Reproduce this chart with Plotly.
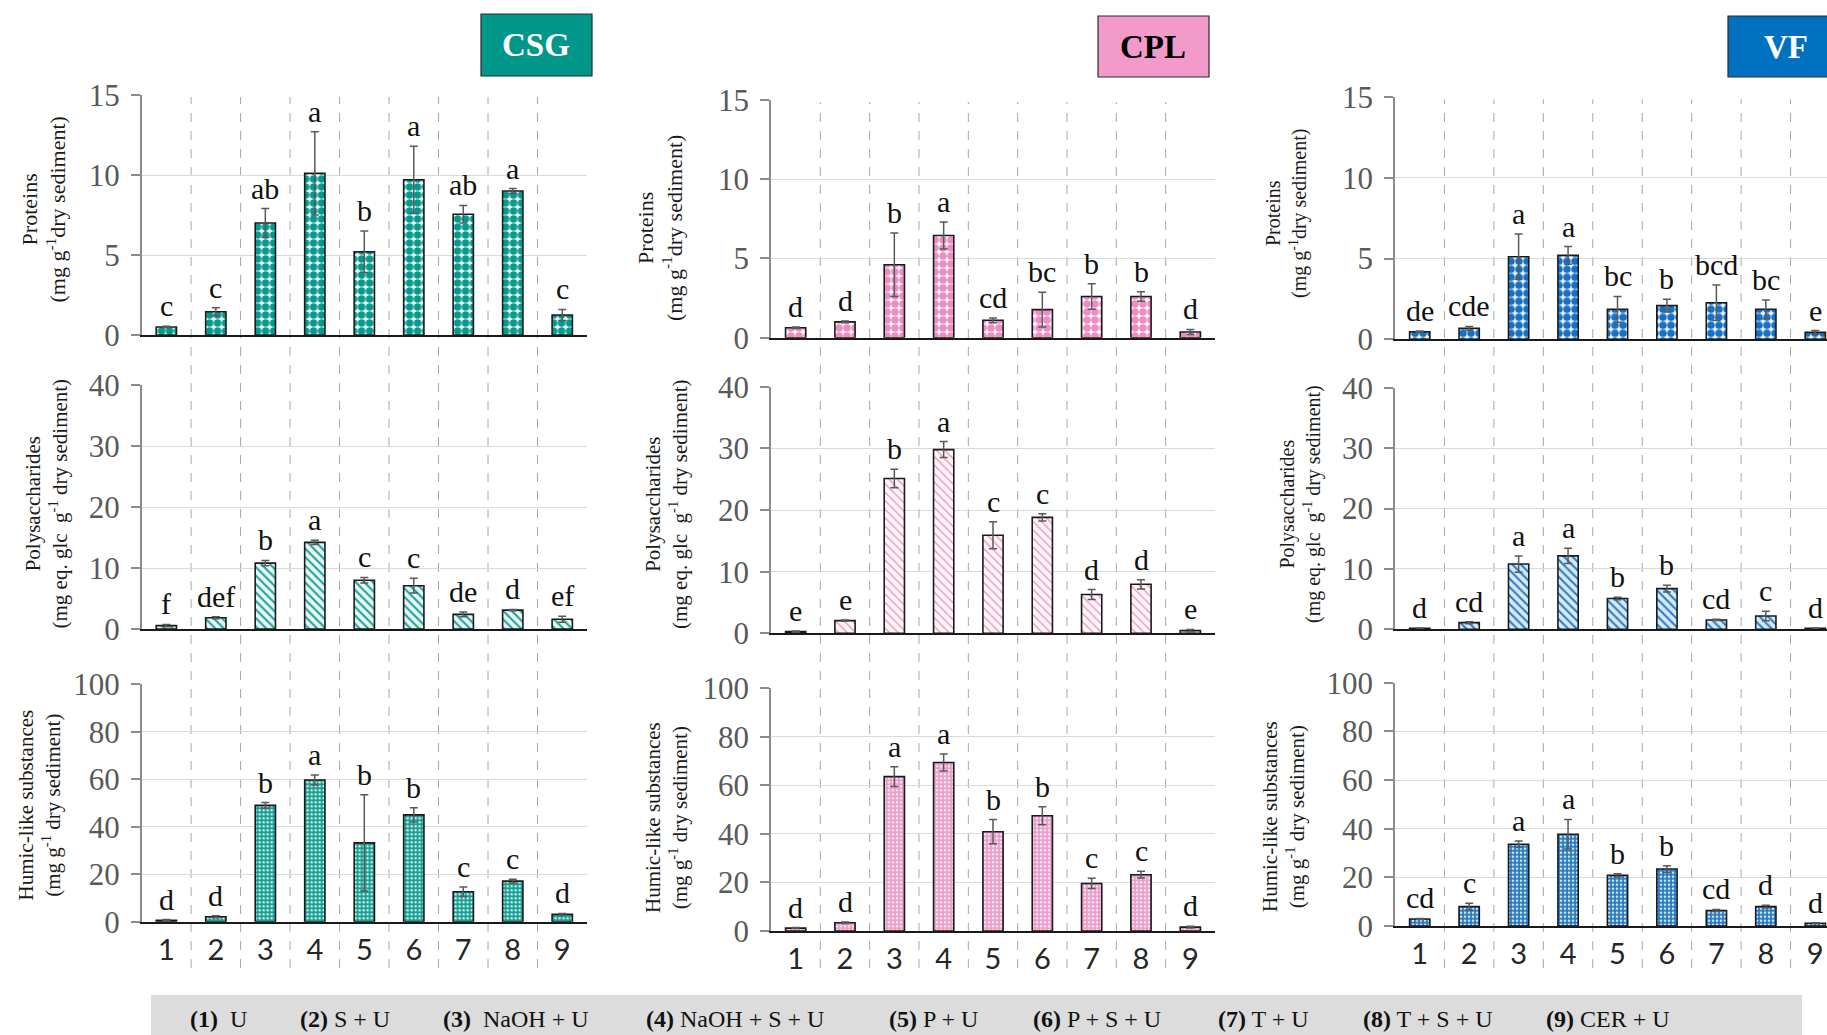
import plotly.graph_objects as go

# ---------------- data ----------------
categories = [1, 2, 3, 4, 5, 6, 7, 8, 9]
sites = ["CSG", "CPL", "VF"]
variables = ["Proteins", "Polysaccharides", "Humic"]

csg_proteins = [0.5, 1.45, 7.0, 10.1, 5.2, 9.7, 7.55, 9.0, 1.25]
csg_proteins_err = [0.05, 0.25, 0.9, 2.6, 1.3, 2.1, 0.55, 0.15, 0.35]
csg_proteins_letters = ["c", "c", "ab", "a", "b", "a", "ab", "a", "c"]

csg_polys = [0.55, 1.85, 10.8, 14.2, 8.0, 7.1, 2.4, 3.1, 1.6]
csg_polys_err = [0.2, 0.15, 0.45, 0.35, 0.45, 1.2, 0.4, 0.1, 0.5]
csg_polys_letters = ["f", "def", "b", "a", "c", "c", "de", "d", "ef"]

csg_humic = [0.6, 2.1, 49.0, 59.7, 33.2, 45.0, 12.6, 17.1, 3.1]
csg_humic_err = [0.3, 0.4, 1.2, 2.1, 20.3, 3.0, 2.0, 0.8, 0.4]
csg_humic_letters = ["d", "d", "b", "a", "b", "b", "c", "c", "d"]

cpl_proteins = [0.63, 1.0, 4.6, 6.45, 1.1, 1.77, 2.6, 2.6, 0.36]
cpl_proteins_err = [0.05, 0.05, 2.0, 0.85, 0.15, 1.1, 0.8, 0.3, 0.16]
cpl_proteins_letters = ["d", "d", "b", "a", "cd", "bc", "b", "b", "d"]

cpl_polys = [0.27, 2.05, 25.1, 29.8, 15.9, 18.8, 6.3, 7.95, 0.43]
cpl_polys_err = [0.1, 0.1, 1.5, 1.3, 2.2, 0.6, 0.8, 0.75, 0.2]
cpl_polys_letters = ["e", "e", "b", "a", "c", "c", "d", "d", "e"]

cpl_humic = [1.2, 3.4, 63.6, 69.4, 40.9, 47.5, 19.6, 23.2, 1.6]
cpl_humic_err = [0.2, 0.3, 4.1, 3.5, 5.0, 3.7, 2.1, 1.4, 0.4]
cpl_humic_letters = ["d", "d", "a", "a", "b", "b", "c", "c", "d"]

vf_proteins = [0.47, 0.68, 5.12, 5.2, 1.86, 2.09, 2.27, 1.86, 0.43]
vf_proteins_err = [0.05, 0.12, 1.4, 0.55, 0.8, 0.4, 1.1, 0.58, 0.11]
vf_proteins_letters = ["de", "cde", "a", "a", "bc", "b", "bcd", "bc", "e"]

vf_polys = [0.17, 1.1, 10.8, 12.15, 5.1, 6.74, 1.55, 2.2, 0.17]
vf_polys_err = [0.05, 0.17, 1.35, 1.25, 0.2, 0.55, 0.1, 0.8, 0.05]
vf_polys_letters = ["d", "cd", "a", "a", "b", "b", "cd", "c", "d"]

vf_humic = [2.9, 7.95, 33.6, 37.7, 20.8, 23.4, 6.4, 7.95, 1.1]
vf_humic_err = [0.2, 1.35, 1.3, 6.1, 0.7, 1.4, 0.4, 0.55, 0.2]
vf_humic_letters = ["cd", "c", "a", "a", "b", "b", "cd", "d", "d"]

y_max = [15, 40, 100]
y_ticks = [[0, 5, 10, 15], [0, 10, 20, 30, 40], [0, 20, 40, 60, 80, 100]]

y_titles = [
    "Proteins<br>(mg g<sup>-1</sup>dry sediment)",
    "Polysaccharides<br>(mg eq. glc  g<sup>-1</sup> dry sediment)",
    "Humic-like substances<br>(mg g<sup>-1</sup> dry sediment)",
]

legend_labels = ["<b>(1)</b>  U", "<b>(2)</b> S + U", "<b>(3)</b>  NaOH + U",
                 "<b>(4)</b> NaOH + S + U", "<b>(5)</b> P + U", "<b>(6)</b> P + S + U",
                 "<b>(7)</b> T + U", "<b>(8)</b> T + S + U", "<b>(9)</b> CER + U"]

values = [
    [(csg_proteins, csg_proteins_err, csg_proteins_letters),
     (cpl_proteins, cpl_proteins_err, cpl_proteins_letters),
     (vf_proteins, vf_proteins_err, vf_proteins_letters)],
    [(csg_polys, csg_polys_err, csg_polys_letters),
     (cpl_polys, cpl_polys_err, cpl_polys_letters),
     (vf_polys, vf_polys_err, vf_polys_letters)],
    [(csg_humic, csg_humic_err, csg_humic_letters),
     (cpl_humic, cpl_humic_err, cpl_humic_letters),
     (vf_humic, vf_humic_err, vf_humic_letters)],
]

# ---------------- layout constants (pixels) ----------------
W, H = 1827, 1035
def xp(px): return px / W
def yp(py): return 1 - py / H

col_x = [(141.6, 587.0), (771.0, 1215.0), (1395.0, 1827.0)]
col_xrange = [[0.5, 9.5], [0.5, 9.5], [0.5, 9.237]]
row_y = [
    [(95, 335), (100, 337.7), (97.3, 339.3)],
    [(385, 629), (386.7, 633.3), (387.7, 629.3)],
    [(684.3, 921.7), (688.3, 931), (682.7, 926)],
]
title_pos = [
    [(43.5, 210, 22), (660, 228, 22), (1287, 214, 20)],
    [(45.5, 504, 21), (666, 504, 21), (1300, 504, 20)],
    [(38.5, 805, 21), (666, 818, 21), (1283, 817, 21)],
]
header_boxes = [  # x0, x1, y0, y1, fill, text color, text centre x
    (481, 592, 14, 76, "#00968A", "white", 536),
    (1098, 1209, 16, 77, "#F29BCB", "black", 1153),
    (1728, 1840, 16, 77, "#0070C0", "white", 1786),
]
legend_x = [188, 298, 441, 644, 887, 1031, 1216, 1361, 1544]

# ---------------- styles ----------------
site_styles = [
    # proteins (checker), polysaccharides (hatch), humic (dots)
    [dict(shape=".", fgcolor="#009B8F", bgcolor="white", size=8, solidity=0.7, fillmode="replace"),
     dict(shape="\\", fgcolor="#1AA396", bgcolor="#EAF7F6", size=6, solidity=0.35, fillmode="replace"),
     dict(shape=".", fgcolor="#D7F0EC", bgcolor="#0C9C90", size=4, solidity=0.35, fillmode="replace")],
    [dict(shape=".", fgcolor="#F08CC2", bgcolor="white", size=8, solidity=0.7, fillmode="replace"),
     dict(shape="\\", fgcolor="#EE9CC6", bgcolor="#FFF6FA", size=6, solidity=0.25, fillmode="replace"),
     dict(shape=".", fgcolor="#FBE3F0", bgcolor="#EC9CC8", size=4, solidity=0.35, fillmode="replace")],
    [dict(shape=".", fgcolor="#1670C4", bgcolor="white", size=8, solidity=0.7, fillmode="replace"),
     dict(shape="\\", fgcolor="#2A7CC6", bgcolor="#D7EAF7", size=6, solidity=0.35, fillmode="replace"),
     dict(shape=".", fgcolor="#CFE3F4", bgcolor="#2478C6", size=4, solidity=0.35, fillmode="replace")],
]

serif = "Liberation Serif, Times New Roman, serif"

fig = go.Figure()
layout = {}
annotations = []
shapes = []

for r in range(3):
    for c in range(3):
        k = r * 3 + c
        sfx = "" if k == 0 else str(k + 1)
        vals, errs, letters = values[r][c]
        style = site_styles[c][r]
        fig.add_trace(go.Bar(
            x=categories, y=vals, width=0.41,
            xaxis="x" + sfx, yaxis="y" + sfx,
            marker=dict(pattern=style, line=dict(color="#1a1a1a", width=1.6)),
            error_y=dict(type="data", array=errs, visible=True,
                         color="#595959", thickness=1.5, width=4),
            showlegend=False, hoverinfo="skip",
        ))
        ytop, ybot = row_y[r][c]
        x0, x1 = col_x[c]
        layout["xaxis" + sfx] = dict(
            domain=[xp(x0), xp(x1)], anchor="y" + sfx,
            range=col_xrange[c], tickvals=categories,
            showticklabels=(r == 2), ticks="",
            showline=True, linecolor="#1a1a1a", linewidth=2,
            showgrid=False, zeroline=False,
            tickfont=dict(family="Lato, Open Sans, sans-serif", size=29, color="#262626"),
            ticklabelstandoff=1, fixedrange=True, automargin=False,
        )
        layout["yaxis" + sfx] = dict(
            domain=[yp(ybot), yp(ytop)], anchor="x" + sfx,
            range=[0, y_max[r]], tickvals=y_ticks[r],
            showgrid=True, gridcolor="#DADADA", gridwidth=1,
            zeroline=False, showline=True, linecolor="#8C8C8C", linewidth=1.5,
            ticks="outside", ticklen=9, tickcolor="#8C8C8C", tickwidth=1.5,
            tickfont=dict(family=serif, size=31, color="#595959"),
            ticklabelstandoff=5, fixedrange=True, automargin=False,
        )
        # significance letters
        for i, cat in enumerate(categories):
            annotations.append(dict(
                x=cat, y=vals[i] + errs[i], xref="x" + sfx, yref="y" + sfx,
                text=letters[i], showarrow=False, yanchor="bottom", yshift=2,
                font=dict(family=serif, size=30, color="#111111"),
            ))
        tx, ty, ts = title_pos[r][c]
        annotations.append(dict(
            x=xp(tx), y=yp(ty), xref="paper", yref="paper",
            text=y_titles[r], textangle=-90, showarrow=False,
            xanchor="center", yanchor="middle",
            font=dict(family=serif, size=ts, color="#1a1a1a"),
        ))

# dashed category separators spanning each column
for c in range(3):
    sfx = "" if c == 0 else str(c + 1)
    for b in [1.5, 2.5, 3.5, 4.5, 5.5, 6.5, 7.5, 8.5]:
        shapes.append(dict(
            type="line", xref="x" + sfx, yref="paper",
            x0=b, x1=b, y0=yp(968), y1=yp(row_y[0][c][0] + 2),
            line=dict(color="#A8A8A8", width=1, dash="dash"), layer="below",
        ))

# header boxes
for (bx0, bx1, by0, by1, fill, tcol, tcx), name in zip(header_boxes, sites):
    shapes.append(dict(type="rect", xref="paper", yref="paper",
                       x0=xp(bx0), x1=xp(bx1), y0=yp(by1), y1=yp(by0),
                       fillcolor=fill, line=dict(color="#2b2b2b", width=1.2)))
    annotations.append(dict(x=xp(tcx), y=yp((by0 + by1) / 2), xref="paper", yref="paper",
                            text="<b>%s</b>" % name, showarrow=False,
                            xanchor="center", yanchor="middle",
                            font=dict(family=serif, size=33, color=tcol)))

# bottom legend strip
shapes.append(dict(type="rect", xref="paper", yref="paper",
                   x0=xp(151), x1=xp(1802), y0=yp(1045), y1=yp(995),
                   fillcolor="#DCDCDC", line=dict(width=0)))
for lx, lab in zip(legend_x, legend_labels):
    annotations.append(dict(x=xp(lx), y=yp(1019), xref="paper", yref="paper",
                            text=lab, showarrow=False, xanchor="left", yanchor="middle",
                            font=dict(family=serif, size=24, color="#111111")))

fig.update_layout(
    width=W, height=H,
    margin=dict(l=0, r=0, t=0, b=0, pad=0, autoexpand=False),
    paper_bgcolor="white", plot_bgcolor="rgba(0,0,0,0)",
    annotations=annotations, shapes=shapes,
    bargap=0.5, showlegend=False,
    **layout,
)

fig.write_html("out.html", config={"displayModeBar": False})
